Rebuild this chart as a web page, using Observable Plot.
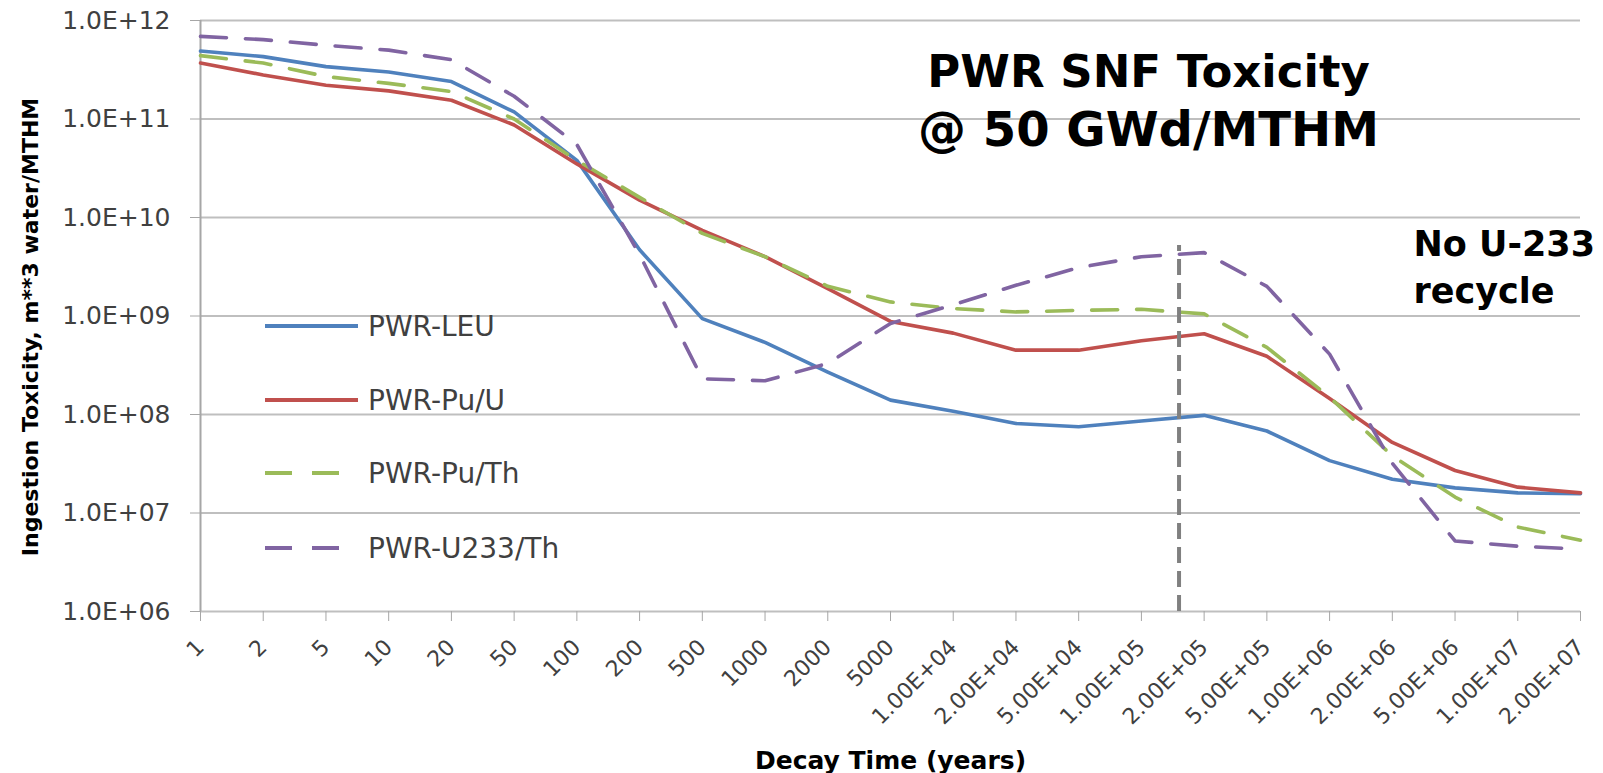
<!DOCTYPE html>
<html>
<head>
<meta charset="utf-8">
<script src="https://cdn.jsdelivr.net/npm/d3@7"></script>
<script src="https://cdn.jsdelivr.net/npm/@observablehq/plot@0.6"></script>
<style>
  body { margin: 0; background: #fff; }
  #wrap { position: relative; width: 1603px; height: 773px; font-family: "DejaVu Sans", sans-serif; background: #fff; }
  .row { position: absolute; left: 265px; height: 36px; display: flex; align-items: center; white-space: nowrap; font-size: 28px; color: #404040; }
  .row span { margin-left: 10px; }
  g[aria-label="x-axis tick"], g[aria-label="y-axis tick"] { stroke: #a6a6a6; }
</style>
</head>
<body>
<div id="wrap"></div>
<script>
// ---- data ----
const decayTimes = ["1","2","5","10","20","50","100","200","500","1000","2000","5000",
  "1.00E+04","2.00E+04","5.00E+04","1.00E+05","2.00E+05","5.00E+05","1.00E+06",
  "2.00E+06","5.00E+06","1.00E+07","2.00E+07"];
const seriesNames = ["PWR-LEU", "PWR-Pu/U", "PWR-Pu/Th", "PWR-U233/Th"];
const pwrLEU = [4.9e11, 4.3e11, 3.4e11, 3.0e11, 2.4e11, 1.18e11, 3.8e10, 4.7e9, 9.4e8, 5.4e8, 2.7e8, 1.4e8,
  1.08e8, 8.1e7, 7.5e7, 8.6e7, 9.8e7, 6.8e7, 3.4e7, 2.2e7, 1.8e7, 1.6e7, 1.57e7];
const pwrPuU = [3.7e11, 2.8e11, 2.2e11, 1.93e11, 1.55e11, 8.7e10, 3.5e10, 1.5e10, 7.4e9, 4.0e9, 1.9e9, 8.8e8,
  6.7e8, 4.5e8, 4.5e8, 5.6e8, 6.6e8, 3.9e8, 1.45e8, 5.2e7, 2.7e7, 1.83e7, 1.6e7];
const pwrPuTh = [4.4e11, 3.7e11, 2.7e11, 2.3e11, 1.9e11, 1.0e11, 3.8e10, 1.6e10, 6.9e9, 4.0e9, 2.0e9, 1.39e9,
  1.19e9, 1.1e9, 1.14e9, 1.17e9, 1.05e9, 4.8e8, 1.5e8, 3.8e7, 1.45e7, 7.2e6, 5.3e6];
const pwrU233Th = [6.9e11, 6.4e11, 5.6e11, 5.0e11, 4.0e11, 1.7e11, 5.5e10, 4.2e9, 2.3e8, 2.2e8, 3.3e8, 8.4e8,
  1.3e9, 2.05e9, 3.1e9, 4.0e9, 4.4e9, 2.0e9, 4.1e8, 3.2e7, 5.2e6, 4.6e6, 4.3e6];
const decades = [1e6, 1e7, 1e8, 1e9, 1e10, 1e11, 1e12];
const cutoffPosition = 15.6;   // between 1.00E+05 and 2.00E+05
const cutoffTop = 5.2e9;
const titleLine1 = "PWR SNF Toxicity";
const titleLine2 = "@ 50 GWd/MTHM";
const noteText = "No U-233\nrecycle";
const yTitle = "Ingestion Toxicity, m**3 water/MTHM";
const xTitle = "Decay Time (years)";

// ---- styles ----
const seriesColors = ["#4f81bd", "#c0504d", "#9bbb59", "#8064a2"];
const seriesDash = [null, null, "26,19", "26,19"];

const values = [pwrLEU, pwrPuU, pwrPuTh, pwrU233Th];
const rows = seriesNames.flatMap((s, k) => values[k].map((v, i) => ({series: s, k, i, v})));
const fmt = d => d.toExponential(1).toUpperCase().replace(/E\+(\d)$/, "E+0$1");

const lineMarks = seriesNames.map((s, k) => Plot.line(rows.filter(r => r.k === k), {
  x: "i", y: "v", stroke: seriesColors[k], strokeWidth: 3.6,
  strokeDasharray: seriesDash[k] || undefined, strokeLinejoin: "round"
}));

const chart = Plot.plot({
  width: 1603, height: 773,
  marginLeft: 200, marginRight: 23, marginTop: 20, marginBottom: 162,
  style: {fontFamily: "DejaVu Sans, sans-serif", fontSize: "22px", color: "#404040", background: "white"},
  x: {domain: [0, decayTimes.length - 1]},
  y: {type: "log", domain: [1e6, 1e12]},
  marks: [
    Plot.gridY(decades, {stroke: "#bfbfbf", strokeOpacity: 1, strokeWidth: 2}),
    Plot.ruleX([0], {stroke: "#a6a6a6", strokeWidth: 2}),
    Plot.axisY({ticks: decades, tickFormat: fmt, tickSize: 10, tickPadding: 20, fontSize: 25, label: null}),
    Plot.axisX({ticks: d3.range(decayTimes.length), tickFormat: i => decayTimes[i], tickRotate: -45,
      tickSize: 10, tickPadding: 22, fontSize: 22, label: null}),
    ...lineMarks,
    Plot.ruleX([cutoffPosition], {y1: 1e6, y2: cutoffTop, stroke: "#808080", strokeWidth: 4, strokeDasharray: "16,8"}),
    Plot.text([titleLine1], {text: d => d, frameAnchor: "top", lineAnchor: "top", dx: 258, dy: 35, fontSize: 45,
      fontWeight: "bold", fill: "black"}),
    Plot.text([titleLine2], {text: d => d, frameAnchor: "top", lineAnchor: "top", dx: 258, dy: 91, fontSize: 48,
      fontWeight: "bold", fill: "black"}),
    Plot.text([noteText], {text: d => d, frameAnchor: "top-right", textAnchor: "start", dx: -167, dy: 202,
      fontSize: 35, fontWeight: "bold", lineHeight: 1.34, fill: "black"}),
    Plot.text([yTitle], {text: d => d, frameAnchor: "left", textAnchor: "middle", lineAnchor: "middle",
      rotate: -90, dx: -170, dy: 11, fontSize: 22, fontWeight: "bold", fill: "black"}),
    Plot.text([xTitle], {text: d => d, frameAnchor: "bottom", lineAnchor: "bottom", dy: 157, fontSize: 25,
      fontWeight: "bold", fill: "black"})
  ]
});

const wrap = document.getElementById("wrap");
wrap.appendChild(chart);

// legend overlay
const legendCenters = [326, 400, 473, 548];
seriesNames.forEach((s, k) => {
  const row = document.createElement("div");
  row.className = "row";
  row.style.top = (legendCenters[k] - 18) + "px";
  const ns = "http://www.w3.org/2000/svg";
  const sv = document.createElementNS(ns, "svg");
  sv.setAttribute("width", 93); sv.setAttribute("height", 10);
  const ln = document.createElementNS(ns, "line");
  ln.setAttribute("x1", 0); ln.setAttribute("x2", 93); ln.setAttribute("y1", 5); ln.setAttribute("y2", 5);
  ln.setAttribute("stroke", seriesColors[k]); ln.setAttribute("stroke-width", 4);
  if (seriesDash[k]) ln.setAttribute("stroke-dasharray", "27,20");
  sv.appendChild(ln);
  row.appendChild(sv);
  const sp = document.createElement("span");
  sp.textContent = s;
  row.appendChild(sp);
  wrap.appendChild(row);
});
</script>
</body>
</html>
